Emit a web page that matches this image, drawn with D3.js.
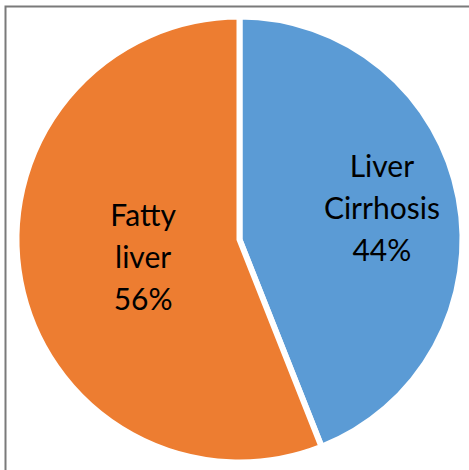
<!DOCTYPE html>
<html>
<head>
<meta charset="utf-8">
<script src="https://cdn.jsdelivr.net/npm/d3@7"></script>
<style>
  html, body { margin: 0; padding: 0; background: #fff; }
  svg { display: block; }
</style>
</head>
<body>
<svg id="chart" width="469" height="470"></svg>
<script>
const categories = ["Liver Cirrhosis", "Fatty liver"];
const labelLines = [["Liver", "Cirrhosis"], ["Fatty", "liver"]];
const values = [44, 56];
const colors = ["#5B9BD5", "#ED7D31"];

const W = 469, H = 470;
const cx = 239.5, cy = 239.5, R = 223;
const labelRadiusFrac = [0.65, 0.44];
const labelDy = [-4, 0];
const fontSize = 30, lineH = 42;

const svg = d3.select("#chart");

// frame
svg.append("path")
  .attr("d", `M${5.5},${H} V${6.5} H${W}`)
  .attr("fill", "none").attr("stroke", "#7a7a7a").attr("stroke-width", 2);

const data = categories.map((c, i) => ({ name: c, value: values[i], lines: labelLines[i], i }));
const pie = d3.pie().value(d => d.value).sort(null);
const arcs = pie(data);
const arc = d3.arc().innerRadius(0).outerRadius(R);

const g = svg.append("g").attr("transform", `translate(${cx},${cy})`);
g.selectAll("path.slice").data(arcs).enter().append("path")
  .attr("class", "slice")
  .attr("d", arc)
  .attr("fill", d => colors[d.data.i])
  .attr("stroke", "#fff").attr("stroke-width", 6).attr("stroke-linejoin", "miter");

const labels = g.selectAll("text.lbl").data(arcs).enter().append("text")
  .attr("class", "lbl")
  .attr("font-family", "Lato, 'Open Sans', sans-serif")
  .attr("font-size", fontSize)
  .attr("fill", "#000")
  .attr("text-anchor", "middle")
  .attr("transform", d => {
    const r = R * labelRadiusFrac[d.data.i];
    const c = d3.arc().innerRadius(r).outerRadius(r).centroid(d);
    return `translate(${c[0]},${c[1] + labelDy[d.data.i]})`;
  });
labels.each(function(d) {
  const t = d3.select(this);
  const all = d.data.lines.concat([d.data.value + "%"]);
  all.forEach((ln, k) => {
    t.append("tspan").attr("x", 0)
      .attr("y", (k - (all.length - 1) / 2) * lineH + fontSize * 0.35)
      .text(ln);
  });
});
</script>
</body>
</html>
